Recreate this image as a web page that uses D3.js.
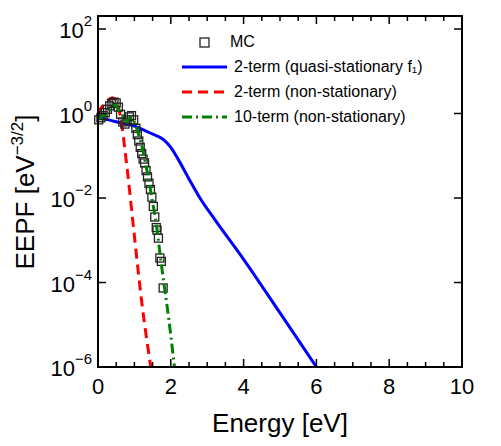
<!DOCTYPE html>
<html><head><meta charset="utf-8">
<script src="https://cdn.jsdelivr.net/npm/d3@7"></script>
<style>body{margin:0;background:#fff}</style>
</head><body>
<svg width="501" height="446"></svg>
<script>
"use strict";

// energy [eV], log10(EEPF)
const mcE = [0.02,0.08,0.14,0.2,0.26,0.32,0.38,0.44,0.5,0.56,0.62,0.68,0.74,0.8,0.86,0.92,0.98,1.04,1.08,1.12,1.16,1.2,1.24,1.28,1.32,1.36,1.4,1.44,1.48,1.52,1.56,1.6,1.62,1.66,1.70,1.74,1.79];
const mcLog = [-0.15,-0.1,-0.05,0.02,0.1,0.18,0.24,0.27,0.25,0.15,-0.02,-0.2,-0.25,-0.15,-0.08,-0.05,-0.15,-0.35,-0.5,-0.65,-0.8,-0.95,-1.08,-1.17,-1.35,-1.5,-1.65,-1.8,-1.98,-2.2,-2.45,-2.7,-2.76,-2.95,-3.42,-3.5,-4.13];
const blueE = [0, 0.3, 0.6, 1.0, 1.4, 1.8, 2.0, 2.2, 2.5, 2.8, 3.2, 4.0, 5.0, 6.0];
const blueLog = [-0.1, -0.15, -0.22, -0.3, -0.45, -0.62, -0.8, -1.08, -1.55, -2.0, -2.5, -3.45, -4.72, -6.0];
const redE = [0, 0.1, 0.2, 0.3, 0.4, 0.5, 0.6, 0.8, 1.0, 1.2, 1.45];
const redLog = [0.0, 0.15, 0.25, 0.33, 0.37, 0.3, 0.0, -1.3, -2.9, -4.45, -6.0];
const greenE = [0, 0.1, 0.2, 0.3, 0.4, 0.48, 0.55, 0.62, 0.7, 0.78, 0.85, 0.92, 1.0, 1.1, 1.2, 1.3, 1.4, 1.5, 1.6, 1.7, 1.8, 1.95, 2.1];
const greenLog = [-0.12, -0.08, -0.02, 0.05, 0.15, 0.2, 0.1, 0.02, -0.08, -0.2, -0.12, -0.1, -0.2, -0.45, -0.75, -1.15, -1.6, -2.1, -2.6, -3.3, -3.95, -4.9, -6.0];
const yTicks = [2, 0, -2, -4, -6];
const xTicks = [0, 2, 4, 6, 8, 10];
const legendLabels = ["MC", "2-term (quasi-stationary f\u2081)", "2-term (non-stationary)", "10-term (non-stationary)"];

const svg = d3.select("svg");
const x = d3.scaleLinear().domain([0, 10]).range([98, 462]);
const y = d3.scaleLinear().domain([-6, 2]).range([367, 29]);
const yTop = 16;
const font = "Liberation Sans, Arial, sans-serif";

const line = (es, ls) => d3.line().curve(d3.curveMonotoneX).x((d, i) => x(es[i])).y(d => y(d))(ls);

const plot = svg.append("g");
plot.append("path").attr("d", line(blueE, blueLog)).attr("fill", "none").attr("stroke", "#0000ff").attr("stroke-width", 3);
plot.append("path").attr("d", line(redE, redLog)).attr("fill", "none").attr("stroke", "#ff0000").attr("stroke-width", 3).attr("stroke-dasharray", "10,6");
plot.selectAll("rect.mc").data(mcLog).join("rect")
    .attr("x", (d, i) => x(mcE[i]) - 4).attr("y", d => y(d) - 4)
    .attr("width", 8).attr("height", 8).attr("fill", "none").attr("stroke", "#222").attr("stroke-width", 1.3);
plot.append("path").attr("d", line(greenE, greenLog)).attr("fill", "none").attr("stroke", "#008000").attr("stroke-width", 3).attr("stroke-dasharray", "10,4,2,4");

// frame and ticks
svg.append("rect").attr("x", 98).attr("y", yTop).attr("width", 364).attr("height", 367 - yTop)
    .attr("fill", "none").attr("stroke", "#000").attr("stroke-width", 2);
const minorX = d3.range(0, 10.01, 0.5);
svg.selectAll("line.xt").data(minorX).join("line")
    .attr("x1", d => x(d)).attr("x2", d => x(d)).attr("y1", 367).attr("y2", d => 367 - (d % 2 === 0 ? 8 : 5))
    .attr("stroke", "#000").attr("stroke-width", 1.5);
svg.selectAll("line.xtt").data(minorX).join("line")
    .attr("x1", d => x(d)).attr("x2", d => x(d)).attr("y1", yTop).attr("y2", d => yTop + (d % 2 === 0 ? 8 : 5))
    .attr("stroke", "#000").attr("stroke-width", 1.5);
svg.selectAll("line.yt").data(yTicks).join("line")
    .attr("x1", 98).attr("x2", 106).attr("y1", d => y(d)).attr("y2", d => y(d)).attr("stroke", "#000").attr("stroke-width", 1.5);
svg.selectAll("line.ytr").data(yTicks).join("line")
    .attr("x1", 462).attr("x2", 454).attr("y1", d => y(d)).attr("y2", d => y(d)).attr("stroke", "#000").attr("stroke-width", 1.5);

svg.selectAll("text.xl").data(xTicks).join("text")
    .attr("x", d => x(d)).attr("y", 394).attr("text-anchor", "middle")
    .attr("font-family", font).attr("font-size", 22).text(d => d);
const yl = svg.selectAll("text.yl").data(yTicks).join("text")
    .attr("x", 92).attr("y", d => y(d) + 9).attr("text-anchor", "end")
    .attr("font-family", font).attr("font-size", 22);
yl.append("tspan").text("10");
yl.append("tspan").attr("dy", -12).attr("font-size", 15).text(d => d < 0 ? "\u2212" + (-d) : d);

svg.append("text").attr("x", 280).attr("y", 432).attr("text-anchor", "middle")
    .attr("font-family", font).attr("font-size", 26).text("Energy [eV]");
const yt = svg.append("text").attr("transform", "translate(34,192) rotate(-90)").attr("text-anchor", "middle")
    .attr("font-family", font).attr("font-size", 26);
yt.append("tspan").text("EEPF [eV");
yt.append("tspan").attr("dy", -11).attr("font-size", 17).text("\u22123/2");
yt.append("tspan").attr("dy", 11).text("]");

// legend
const lg = svg.append("g").attr("font-family", font).attr("font-size", 16);
const ly = [42, 67, 92, 117];
lg.append("rect").attr("x", 200).attr("y", ly[0] - 4).attr("width", 9).attr("height", 9).attr("fill", "none").attr("stroke", "#222").attr("stroke-width", 1.3);
lg.append("line").attr("x1", 182).attr("x2", 227).attr("y1", ly[1]).attr("y2", ly[1]).attr("stroke", "#0000ff").attr("stroke-width", 3);
lg.append("line").attr("x1", 182).attr("x2", 227).attr("y1", ly[2]).attr("y2", ly[2]).attr("stroke", "#ff0000").attr("stroke-width", 3).attr("stroke-dasharray", "10,6");
lg.append("line").attr("x1", 182).attr("x2", 227).attr("y1", ly[3]).attr("y2", ly[3]).attr("stroke", "#008000").attr("stroke-width", 3).attr("stroke-dasharray", "10,4,2,4");
lg.selectAll("text").data(legendLabels).join("text")
    .attr("x", (d, i) => i === 0 ? 230 : 234).attr("y", (d, i) => ly[i] + 5).text(d => d);
</script>
</body></html>
